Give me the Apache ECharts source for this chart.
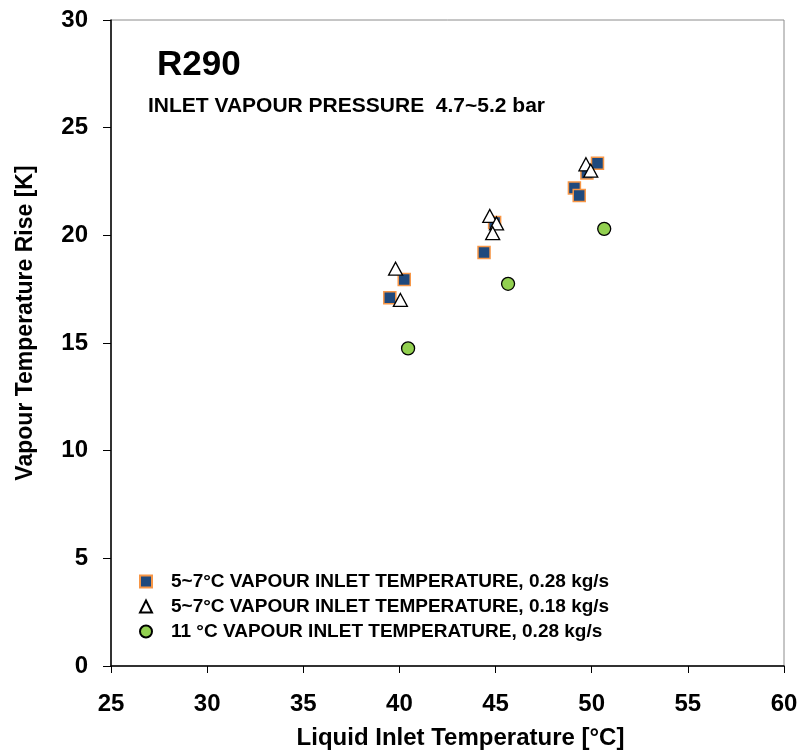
<!DOCTYPE html>
<html><head><meta charset="utf-8">
<script src="https://cdn.jsdelivr.net/npm/echarts@6/dist/echarts.min.js"></script>
<style>html,body{margin:0;padding:0;background:#fff}#c{width:802px;height:756px}</style>
</head><body><div id="c"></div>
<script>
const xTicks = [25, 30, 35, 40, 45, 50, 55, 60];
const yTicks = [0, 5, 10, 15, 20, 25, 30];
const seriesNames = [
  '5~7°C VAPOUR INLET TEMPERATURE, 0.28 kg/s',
  '5~7°C VAPOUR INLET TEMPERATURE, 0.18 kg/s',
  '11 °C VAPOUR INLET TEMPERATURE, 0.28 kg/s'
];
const squares028 = [[39.5,17.1],[40.25,17.95],[44.4,19.2],[44.95,20.6],[49.1,22.2],[49.35,21.85],[49.75,22.9],[50.3,23.35]];
const triangles018 = [[39.8,18.45],[40.05,17.0],[44.7,20.9],[45.05,20.55],[44.85,20.1],[49.7,23.3],[49.95,23.0]];
const circles028 = [[40.45,14.75],[45.65,17.75],[50.65,20.3]];
const titleText = 'R290';
const subtitleText = 'INLET VAPOUR PRESSURE  4.7~5.2 bar';
const xName = 'Liquid Inlet Temperature [°C]';
const yName = 'Vapour Temperature Rise [K]';

const F = 'Liberation Sans, Arial, sans-serif';
const chart = echarts.init(document.getElementById('c'));
chart.setOption({
  animation: false,
  backgroundColor: '#fff',
  grid: {left: 111, right: 18, top: 20, bottom: 90, show: true, borderColor: '#8c8c8c', borderWidth: 1, backgroundColor: 'transparent'},
  title: [
    {text: titleText, left: 152, top: 43, textStyle: {fontFamily: F, fontWeight: 'bold', fontSize: 35, color: '#000'}},
    {text: subtitleText, left: 143, top: 91, textStyle: {fontFamily: F, fontWeight: 'bold', fontSize: 21, color: '#000'}}
  ],
  legend: {
    orient: 'vertical', left: 134, top: 567, itemGap: 6, itemWidth: 12, itemHeight: 12,
    textStyle: {fontFamily: F, fontWeight: 'bold', fontSize: 19, color: '#000', padding: [0,0,0,14]},
    data: seriesNames
  },
  xAxis: {
    type: 'value', min: xTicks[0], max: xTicks[xTicks.length-1], interval: 5,
    name: xName, nameLocation: 'middle', nameGap: 60,
    nameTextStyle: {fontFamily: F, fontWeight: 'bold', fontSize: 24, color: '#000', padding: [0,0,0,26]},
    axisLine: {onZero: false, lineStyle: {color: '#000', width: 1.5}},
    axisTick: {show: true, inside: false, length: 7, lineStyle: {color: '#000', width: 1}},
    axisLabel: {fontFamily: F, fontWeight: 'bold', fontSize: 24, color: '#000', margin: 26},
    splitLine: {show: false}
  },
  yAxis: {
    type: 'value', min: yTicks[0], max: yTicks[yTicks.length-1], interval: 5,
    name: yName, nameLocation: 'middle', nameGap: 74, nameRotate: 90,
    nameTextStyle: {fontFamily: F, fontWeight: 'bold', fontSize: 23, color: '#000', padding: [0,0,0,40]},
    axisLine: {onZero: false, lineStyle: {color: '#000', width: 1.5}},
    axisTick: {show: true, inside: false, length: 8, lineStyle: {color: '#000', width: 1}},
    axisLabel: {fontFamily: F, fontWeight: 'bold', fontSize: 24, color: '#000', margin: 23},
    splitLine: {show: false}
  },
  series: [
    {name: seriesNames[0], type: 'scatter', symbol: 'rect', symbolSize: 12, data: squares028,
     itemStyle: {color: '#1F497D', borderColor: '#F79646', borderWidth: 1.5, opacity: 1}},
    {name: seriesNames[1], type: 'scatter', symbol: 'triangle', symbolSize: [14, 13], data: triangles018,
     itemStyle: {color: '#fff', borderColor: '#000', borderWidth: 1.3, opacity: 1}},
    {name: seriesNames[2], type: 'scatter', symbol: 'circle', symbolSize: 13, data: circles028,
     itemStyle: {color: '#92D050', borderColor: '#000', borderWidth: 1.3, opacity: 1}}
  ]
});
</script></body></html>
